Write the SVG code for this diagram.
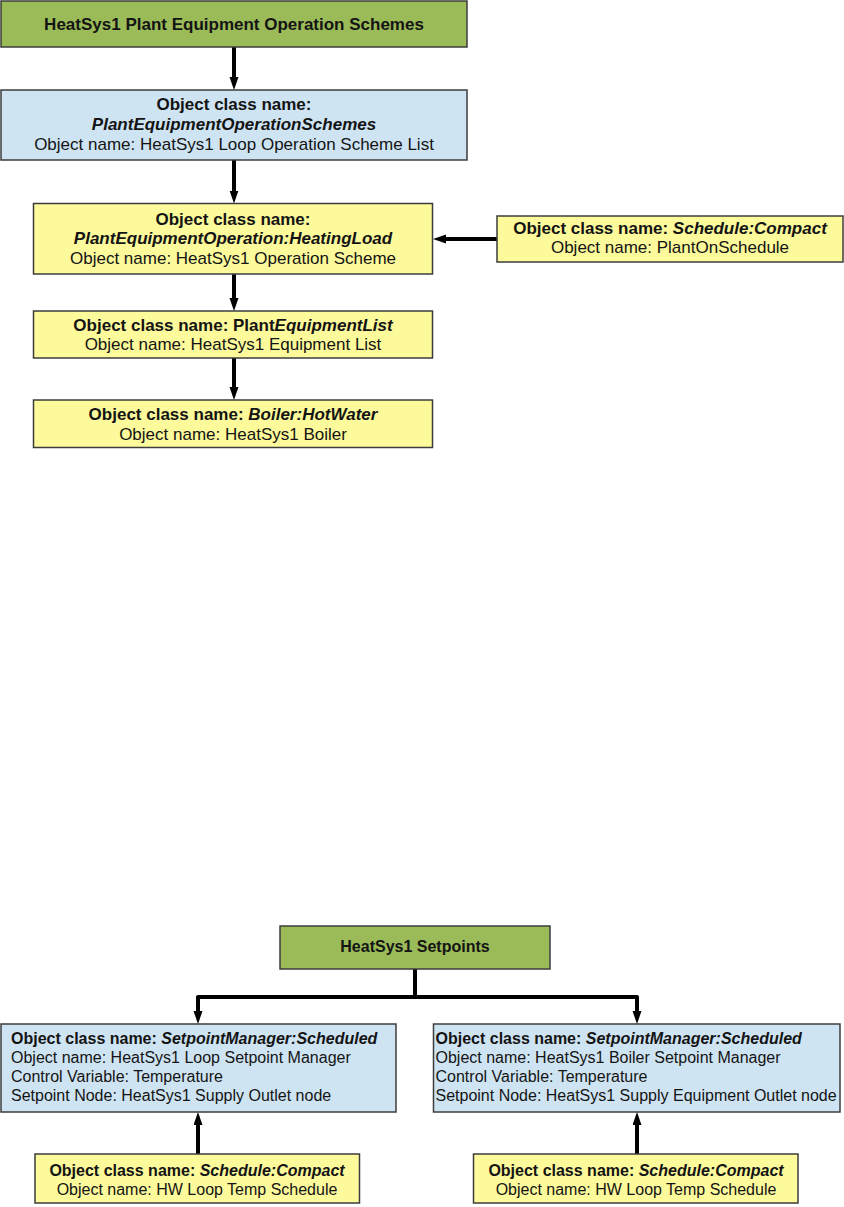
<svg xmlns="http://www.w3.org/2000/svg" width="844" height="1207" viewBox="0 0 844 1207">
<defs>
<style>
.green{fill:#9bbb59;stroke:#3c3c3c;stroke-width:1.5}
.blue{fill:#cfe4f3;stroke:#3c3c3c;stroke-width:1.5}
.yellow{fill:#fdfa9b;stroke:#3c3c3c;stroke-width:1.5}
text{font-family:"Liberation Sans",Arial,sans-serif;fill:#141414}
.t17{font-size:17px}
.t16{font-size:16px}
.b{font-weight:bold}
.bi{font-weight:bold;font-style:italic}
.c{text-anchor:middle}
.conn{fill:none;stroke:#000;stroke-width:4;stroke-linejoin:round}
</style>
<marker id="ah" markerUnits="userSpaceOnUse" markerWidth="14" markerHeight="10" refX="5" refY="4.5" orient="auto">
<path d="M0,0 L13,4.5 L0,9 z" fill="#000"/>
</marker>
</defs>
<rect width="844" height="1207" fill="#fff"/>

<g id="connectors">
<path class="conn" d="M234,47 V82" marker-end="url(#ah)"/>
<path class="conn" d="M234,160 V195.5" marker-end="url(#ah)"/>
<path class="conn" d="M497,239 H441" marker-end="url(#ah)"/>
<path class="conn" d="M234,274 V303" marker-end="url(#ah)"/>
<path class="conn" d="M234,358 V392" marker-end="url(#ah)"/>
<path class="conn" d="M415,969 V997"/>
<path class="conn" d="M415,997 H198 V1016" marker-end="url(#ah)"/>
<path class="conn" d="M415,997 H637 V1016" marker-end="url(#ah)"/>
<path class="conn" d="M198,1154 V1120" marker-end="url(#ah)"/>
<path class="conn" d="M637,1154 V1120" marker-end="url(#ah)"/>
</g>

<g id="heatsys1-plant-equipment-operation-schemes">
<rect class="green" x="1" y="1" width="466" height="46"/>
<text class="t17 b c" x="234" y="29.5">HeatSys1 Plant Equipment Operation Schemes</text>
</g>

<g id="plant-equipment-operation-schemes">
<rect class="blue" x="1" y="90" width="466" height="70"/>
<text class="t17 b c" x="234" y="110">Object class name:</text>
<text class="t17 bi c" x="234" y="129.5">PlantEquipmentOperationSchemes</text>
<text class="t17 c" x="234" y="149.5">Object name: HeatSys1 Loop Operation Scheme List</text>
</g>

<g id="plant-equipment-operation-heating-load">
<rect class="yellow" x="33.5" y="203.5" width="399" height="70.5"/>
<text class="t17 b c" x="233" y="224.5">Object class name:</text>
<text class="t17 bi c" x="233" y="244">PlantEquipmentOperation:HeatingLoad</text>
<text class="t17 c" x="233" y="263.5">Object name: HeatSys1 Operation Scheme</text>
</g>

<g id="schedule-compact-plant-on">
<rect class="yellow" x="497" y="216" width="346" height="46"/>
<text class="t17 c" x="670" y="234"><tspan class="b">Object class name: </tspan><tspan class="bi">Schedule:Compact</tspan></text>
<text class="t17 c" x="670" y="253">Object name: PlantOnSchedule</text>
</g>

<g id="plant-equipment-list">
<rect class="yellow" x="33.5" y="311" width="399" height="47"/>
<text class="t17 c" x="233" y="330.5"><tspan class="b">Object class name: Plant</tspan><tspan class="bi">EquipmentList</tspan></text>
<text class="t17 c" x="233" y="350">Object name: HeatSys1 Equipment List</text>
</g>

<g id="boiler-hot-water">
<rect class="yellow" x="33.5" y="400" width="399" height="47.5"/>
<text class="t17 c" x="233" y="420"><tspan class="b">Object class name: </tspan><tspan class="bi">Boiler:HotWater</tspan></text>
<text class="t17 c" x="233" y="439.5">Object name: HeatSys1 Boiler</text>
</g>

<g id="heatsys1-setpoints">
<rect class="green" x="280" y="926" width="270" height="43"/>
<text class="t16 b c" x="415" y="952">HeatSys1 Setpoints</text>
</g>

<g id="setpoint-manager-loop">
<rect class="blue" x="1" y="1024" width="395" height="88"/>
<text class="t16" x="11" y="1044"><tspan class="b">Object class name: </tspan><tspan class="bi">SetpointManager:Scheduled</tspan></text>
<text class="t16" x="11" y="1063">Object name: HeatSys1 Loop Setpoint Manager</text>
<text class="t16" x="11" y="1082">Control Variable: Temperature</text>
<text class="t16" x="11" y="1100.5">Setpoint Node: HeatSys1 Supply Outlet node</text>
</g>

<g id="setpoint-manager-boiler">
<rect class="blue" x="433.5" y="1024" width="406.5" height="88"/>
<text class="t16" x="435.5" y="1044"><tspan class="b">Object class name: </tspan><tspan class="bi">SetpointManager:Scheduled</tspan></text>
<text class="t16" x="435.5" y="1063">Object name: HeatSys1 Boiler Setpoint Manager</text>
<text class="t16" x="435.5" y="1082">Control Variable: Temperature</text>
<text class="t16" x="435.5" y="1100.5">Setpoint Node: HeatSys1 Supply Equipment Outlet node</text>
</g>

<g id="schedule-compact-hw-left">
<rect class="yellow" x="35" y="1154" width="324.5" height="49"/>
<text class="t16 c" x="197" y="1176"><tspan class="b">Object class name: </tspan><tspan class="bi">Schedule:Compact</tspan></text>
<text class="t16 c" x="197" y="1195">Object name: HW Loop Temp Schedule</text>
</g>

<g id="schedule-compact-hw-right">
<rect class="yellow" x="473.5" y="1154" width="324.5" height="49"/>
<text class="t16 c" x="636" y="1176"><tspan class="b">Object class name: </tspan><tspan class="bi">Schedule:Compact</tspan></text>
<text class="t16 c" x="636" y="1195">Object name: HW Loop Temp Schedule</text>
</g>
</svg>
